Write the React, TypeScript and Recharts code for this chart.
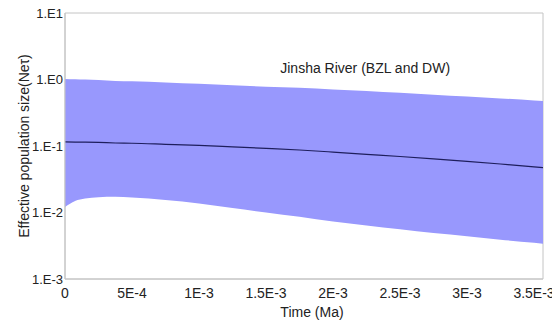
import React from 'react';
import {
  ComposedChart,
  Area,
  Line,
  XAxis,
  YAxis,
  ReferenceArea,
  ReferenceDot,
  Label,
} from 'recharts';

// Time (Ma)
const times = [
  0, 7.5e-5, 1.5e-4, 2.5e-4, 3.75e-4, 5e-4, 7.5e-4, 1e-3, 1.25e-3, 1.5e-3,
  1.75e-3, 2e-3, 2.25e-3, 2.5e-3, 2.75e-3, 3e-3, 3.25e-3, 3.5e-3, 3.567e-3,
];
// lower 95% HPD
const lower = [
  0.0121, 0.0149, 0.0162, 0.017, 0.0172, 0.0168, 0.0154, 0.0137, 0.0117, 0.01,
  0.0086, 0.0073, 0.0064, 0.0056, 0.0049, 0.0044, 0.0039, 0.0035, 0.0034,
];
// upper 95% HPD
const upper = [
  1.02, 1.01, 1.0, 0.98, 0.95, 0.94, 0.9, 0.86, 0.82, 0.78, 0.75, 0.71, 0.67,
  0.63, 0.59, 0.555, 0.52, 0.485, 0.475,
];
// median
const median = [
  0.115, 0.1145, 0.114, 0.113, 0.111, 0.11, 0.106, 0.102, 0.097, 0.092, 0.087,
  0.081, 0.075, 0.0695, 0.064, 0.0587, 0.0536, 0.0487, 0.0473,
];

const xTicks = [0, 5e-4, 1e-3, 1.5e-3, 2e-3, 2.5e-3, 3e-3, 3.5e-3];
const xTickLabels = ['0', '5E-4', '1E-3', '1.5E-3', '2E-3', '2.5E-3', '3E-3', '3.5E-3'];
const yTicks = [0.001, 0.01, 0.1, 1, 10];
const yTickLabels = ['1.E-3', '1.E-2', '1.E-1', '1.E0', '1.E1'];

const xMax = 3.567e-3;
const title = 'Jinsha River (BZL and DW)';

const data = times.map((t, i) => ({
  t,
  band: [lower[i], upper[i]],
  median: median[i],
}));

const fmtX = (v: number) => {
  const i = xTicks.findIndex((x) => Math.abs(x - v) < 1e-9);
  return i >= 0 ? xTickLabels[i] : '';
};
const fmtY = (v: number) => {
  const i = yTicks.findIndex((y) => Math.abs(Math.log10(y) - Math.log10(v)) < 1e-6);
  return i >= 0 ? yTickLabels[i] : '';
};

export default function App() {
  return (
    <div
      style={{
        fontFamily: '"Liberation Sans", Arial, sans-serif',
        marginTop: -8,
        marginLeft: -8,
        width: 560,
        height: 322,
      }}
    >
      <ComposedChart
        width={560}
        height={322}
        data={data}
        margin={{ top: 13, right: 17, left: 15, bottom: 0 }}
      >
        <XAxis
          dataKey="t"
          type="number"
          domain={[0, xMax]}
          ticks={xTicks}
          tickFormatter={fmtX}
          height={43}
          tickSize={0}
          tickMargin={9}
          tickLine={false}
          axisLine={{ stroke: '#c4c4c4' }}
          tick={{ fontSize: 14, fill: '#222' }}
          interval={0}
          allowDataOverflow
        >
          <Label
            value="Time (Ma)"
            position="insideBottom"
            offset={5}
            dx={8}
            style={{ fontSize: 14, fill: '#222' }}
          />
        </XAxis>
        <YAxis
          type="number"
          scale="log"
          domain={[0.001, 10]}
          ticks={yTicks}
          tickFormatter={fmtY}
          width={50}
          tickSize={0}
          tickMargin={2}
          tickLine={false}
          axisLine={{ stroke: '#c4c4c4' }}
          tick={{ fontSize: 13, fill: '#222' }}
          interval={0}
          allowDataOverflow
        >
          <Label
            value="Effective population size(Neτ)"
            angle={-90}
            position="insideLeft"
            offset={9}
            style={{ fontSize: 14, fill: '#222', textAnchor: 'middle' }}
          />
        </YAxis>
        <ReferenceArea
          x1={0}
          x2={xMax}
          y1={0.001}
          y2={10}
          fill="none"
          stroke="#c4c4c4"
          strokeWidth={1}
        />
        <Area
          type="monotone"
          dataKey="band"
          stroke="none"
          fill="#9898fd"
          fillOpacity={1}
          isAnimationActive={false}
          dot={false}
          activeDot={false}
        />
        <Line
          type="monotone"
          dataKey="median"
          stroke="#1e1e5c"
          strokeWidth={1.2}
          dot={false}
          activeDot={false}
          isAnimationActive={false}
        />
        <ReferenceDot
          x={2.24e-3}
          y={1.49}
          r={0}
          fill="none"
          stroke="none"
          label={{ value: title, position: 'center', fontSize: 14, fill: '#222' }}
        />
      </ComposedChart>
    </div>
  );
}
